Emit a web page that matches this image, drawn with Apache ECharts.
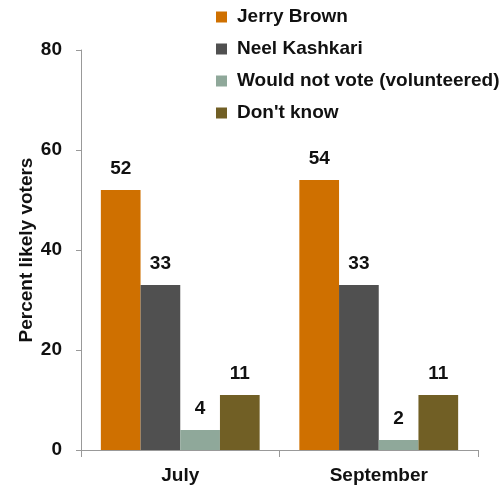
<!DOCTYPE html>
<html>
<head>
<meta charset="utf-8">
<style>
  html, body { margin: 0; padding: 0; background: #fff; }
  #chart { width: 502px; height: 489px; }
</style>
<script src="https://cdn.jsdelivr.net/npm/echarts@6/dist/echarts.min.js"></script>
</head>
<body>
<div id="chart"></div>
<script>
// Survey waves on the x axis
const categories = ['July', 'September'];

// Share of likely voters (%) per response
const seriesNames = ['Jerry Brown', 'Neel Kashkari', 'Would not vote (volunteered)', "Don't know"];
const jerryBrown = [52, 54];
const neelKashkari = [33, 33];
const wouldNotVote = [4, 2];
const dontKnow = [11, 11];

const yTicks = [0, 20, 40, 60, 80];

const colors = ['#cf7000', '#505050', '#8fa89a', '#715f25'];
const FONT = '"Liberation Sans", Arial, sans-serif';

const values = [jerryBrown, neelKashkari, wouldNotVote, dontKnow];

const chart = echarts.init(document.getElementById('chart'), null, { renderer: 'canvas' });

chart.setOption({
  animation: false,
  textStyle: { fontFamily: FONT },
  grid: {
    left: 81, right: 24, top: 50, bottom: 39,
    containLabel: false,
    outerBoundsMode: 'none'
  },
  legend: {
    orient: 'vertical',
    left: 216,
    top: 7,
    padding: 0,
    itemWidth: 11,
    itemHeight: 11,
    itemGap: 12,
    icon: 'rect',
    textStyle: {
      fontFamily: FONT, fontWeight: 'bold', fontSize: 19, lineHeight: 20,
      color: '#111', padding: [0, 0, 0, 5]
    },
    data: seriesNames
  },
  xAxis: {
    type: 'category',
    data: categories,
    axisLine: { lineStyle: { color: '#999' } },
    axisTick: { show: true, length: 7, lineStyle: { color: '#999' } },
    axisLabel: { margin: 16, fontFamily: FONT, fontWeight: 'bold', fontSize: 19, color: '#111' }
  },
  yAxis: {
    type: 'value',
    min: yTicks[0],
    max: yTicks[yTicks.length - 1],
    interval: 20,
    name: 'Percent likely voters',
    nameLocation: 'middle',
    nameGap: 45,
    nameMoveOverlap: false,
    nameTextStyle: { fontFamily: FONT, fontWeight: 'bold', fontSize: 19, color: '#111' },
    axisLine: { show: true, lineStyle: { color: '#999' } },
    axisTick: { show: true, length: 5, lineStyle: { color: '#999' } },
    splitLine: { show: false },
    axisLabel: { margin: 19, fontFamily: FONT, fontWeight: 'bold', fontSize: 19, color: '#111' }
  },
  series: seriesNames.map((name, i) => ({
    name: name,
    type: 'bar',
    data: values[i],
    barGap: '0%',
    barCategoryGap: '20%',
    itemStyle: { color: colors[i] },
    label: {
      show: true,
      position: 'top',
      distance: 12,
      fontFamily: FONT,
      fontWeight: 'bold',
      fontSize: 19,
      color: '#111'
    }
  }))
});
</script>
</body>
</html>
